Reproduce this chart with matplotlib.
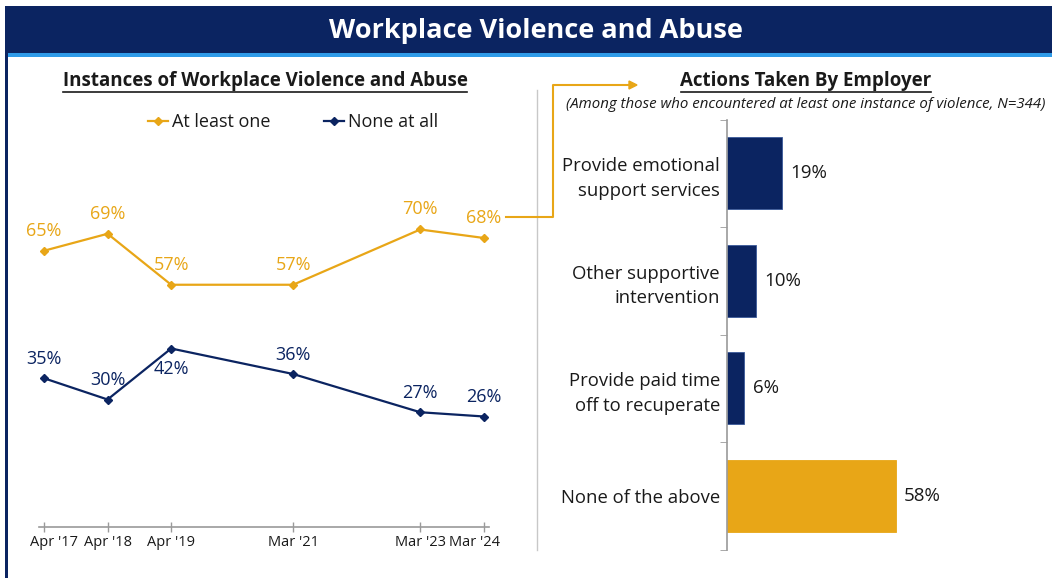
import matplotlib
matplotlib.use("Agg")
import matplotlib.pyplot as plt
import matplotlib.dates as mdates
import matplotlib.transforms as mtransforms
from matplotlib.patches import Rectangle
from matplotlib.lines import Line2D
import datetime as dt

plt.rcParams['font.family'] = ['Open Sans', 'DejaVu Sans']

# ---------------- data ----------------
dates = [dt.date(2017, 4, 1), dt.date(2018, 4, 1), dt.date(2019, 4, 1),
         dt.date(2021, 3, 1), dt.date(2023, 3, 1), dt.date(2024, 3, 1)]
date_labels = ["Apr '17", "Apr '18", "Apr '19", "Mar '21", "Mar '23", "Mar '24"]
at_least_one = [65, 69, 57, 57, 70, 68]
none_at_all = [35, 30, 42, 36, 27, 26]
none_label_below = [False, False, True, False, False, False]

actions = ["Provide emotional\nsupport services", "Other supportive\nintervention",
           "Provide paid time\noff to recuperate", "None of the above"]
action_values = [19, 10, 6, 58]

GOLD = '#E8A617'
NAVY = '#0B2461'
LIGHTBLUE = '#2F9BE8'
GRAY = '#9A9A9A'
TXT = '#1A1A1A'

W, H = 1052, 578
fig = plt.figure(figsize=(W / 100, H / 100), dpi=100)


def fx(px):
    return px / W


def fy(py):
    return 1 - py / H


def axes_px(x0, y0, x1, y1):
    return fig.add_axes([fx(x0), fy(y1), fx(x1) - fx(x0), (y1 - y0) / H])


# ---------------- banner ----------------
fig.patches.append(Rectangle((fx(5), fy(53)), 1 - fx(5), 47 / H, transform=fig.transFigure,
                             facecolor=NAVY, edgecolor='none'))
fig.patches.append(Rectangle((fx(5), fy(57)), 1 - fx(5), 4 / H, transform=fig.transFigure,
                             facecolor=LIGHTBLUE, edgecolor='none'))
fig.patches.append(Rectangle((fx(5), 0), 3 / W, fy(53), transform=fig.transFigure,
                             facecolor=NAVY, edgecolor='none'))
fig.text(fx(536), fy(31), "Workplace Violence and Abuse", color='white', fontsize=19.5,
         fontweight='bold', ha='center', va='center')

# ---------------- left line chart ----------------
x_left, x_right = 39, 489
ax = axes_px(x_left, 102, x_right, 527)
xd = mdates.date2num(dates)
scale = (484 - 44) / (xd[-1] - xd[0])
ax.set_xlim(xd[0] - (44 - x_left) / scale, xd[-1] + (x_right - 484) / scale)
ax.set_ylim(0, 100)
ax.plot(xd, at_least_one, color=GOLD, lw=1.6, marker='D', ms=4.5, label='At least one')
ax.plot(xd, none_at_all, color=NAVY, lw=1.6, marker='D', ms=4.5, label='None at all')
for x, v in zip(xd, at_least_one):
    ax.annotate(f"{v}%", (x, v), xytext=(0, 14.5), textcoords='offset points',
                ha='center', va='center', color=GOLD, fontsize=13)
for x, v, below in zip(xd, none_at_all, none_label_below):
    off = -14.5 if below else 14
    ax.annotate(f"{v}%", (x, v), xytext=(0, off), textcoords='offset points',
                ha='center', va='center', color=NAVY, fontsize=13)
for s in ['top', 'right', 'left']:
    ax.spines[s].set_visible(False)
ax.spines['bottom'].set_color(GRAY)
ax.spines['bottom'].set_linewidth(1.2)
ax.set_yticks([])
ax.set_xticks(xd)
ax.set_xticklabels(date_labels, fontsize=10.5, color=TXT)
ax.tick_params(axis='x', direction='inout', length=7, width=1, color=GRAY, pad=2)
ax.patch.set_alpha(0)
# end labels are nudged inward as in the reference
tl = ax.get_xticklabels()
tl[0].set_transform(tl[0].get_transform() + mtransforms.ScaledTranslation(10 / 100, 0, fig.dpi_scale_trans))
tl[-1].set_transform(tl[-1].get_transform() + mtransforms.ScaledTranslation(-10 / 100, 0, fig.dpi_scale_trans))

fig.text(fx(265), fy(81), "Instances of Workplace Violence and Abuse", fontsize=13.5,
         fontweight='bold', ha='center', va='center', color=TXT)
fig.add_artist(Line2D([fx(63), fx(467)], [fy(92), fy(92)], color=TXT, lw=1.2))

fig.legend(handles=ax.get_lines(), loc='center', bbox_to_anchor=(fx(293), fy(122)),
           ncol=2, frameon=False, fontsize=13, handlelength=1.1, handletextpad=0.2,
           columnspacing=3.0, labelcolor=TXT)

# divider
fig.add_artist(Line2D([fx(537), fx(537)], [fy(90), fy(550)], color='#C8C8C8', lw=1))

# connector
fig.add_artist(Line2D([fx(506), fx(553), fx(553), fx(630)],
                      [fy(217), fy(217), fy(85), fy(85)], color=GOLD, lw=1.5))
fig.add_artist(plt.Polygon([[fx(629), fy(81)], [fx(637), fy(85)], [fx(629), fy(89)]],
                           closed=True, transform=fig.transFigure, color=GOLD))

# ---------------- right bar chart ----------------
bx = axes_px(727, 119.5, 1045, 549.5)
ypos = list(range(len(actions)))
colors = [NAVY, NAVY, NAVY, GOLD]
bx.barh(ypos, action_values, height=0.67, color=colors, edgecolor=['#3A5A9A'] * 3 + [GOLD],
        linewidth=0.6)
bx.set_xlim(0, (1045 - 727) / 2.91)
bx.set_ylim(3.5, -0.5)
for y, v in zip(ypos, action_values):
    bx.annotate(f"{v}%", (v, y), xytext=(6, 0), textcoords='offset points',
                ha='left', va='center', fontsize=13.5, color=TXT)
bx.set_yticks(ypos)
bx.set_yticklabels(actions, fontsize=13.3, color=TXT, linespacing=1.45)
bx.tick_params(axis='y', length=0, pad=5)
bx.set_yticks([-0.5, 0.5, 1.5, 2.5, 3.5], minor=True)
bx.tick_params(axis='y', which='minor', length=5, color=GRAY, direction='out')
bx.set_xticks([])
for s in ['top', 'right', 'bottom']:
    bx.spines[s].set_visible(False)
bx.spines['left'].set_color(GRAY)
bx.spines['left'].set_linewidth(1.2)
bx.patch.set_alpha(0)

fig.text(fx(806), fy(81), "Actions Taken By Employer", fontsize=13.5, fontweight='bold',
         ha='center', va='center', color=TXT)
fig.add_artist(Line2D([fx(681), fx(931)], [fy(92), fy(92)], color=TXT, lw=1.2))
fig.text(fx(806), fy(105), "(Among those who encountered at least one instance of violence, N=344)",
         fontsize=10.8, style='italic', ha='center', va='center', color=TXT)

fig.savefig("out.png", dpi=100)
